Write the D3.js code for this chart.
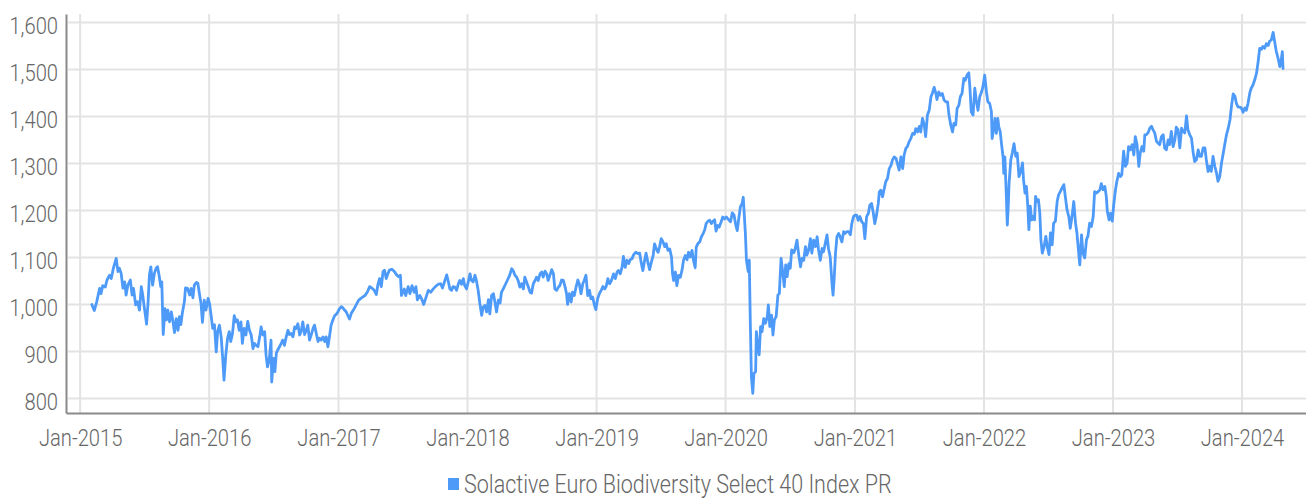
<!DOCTYPE html>
<html>
<head>
<meta charset="utf-8">
<script src="https://cdn.jsdelivr.net/npm/d3@7"></script>
<style>
  html, body { margin: 0; padding: 0; background: #ffffff; }
  svg text { font-family: Roboto, "Noto Sans", sans-serif; font-weight: 300; fill: #666666; }
</style>
</head>
<body>
<svg id="chart" width="1306" height="498"></svg>
<script>
// ---- data ----
const seriesName = "Solactive Euro Biodiversity Select 40 Index PR";
const yTickValues = [800, 900, 1000, 1100, 1200, 1300, 1400, 1500, 1600];
const xTickDates = ["2015-01-01","2016-01-01","2017-01-01","2018-01-01","2019-01-01",
                    "2020-01-01","2021-01-01","2022-01-01","2023-01-01","2024-01-01"];

const dates = [
"2015-02-03","2015-02-10","2015-02-17","2015-02-25","2015-03-01","2015-03-06","2015-03-13","2015-03-18","2015-03-25","2015-03-30",
"2015-04-05","2015-04-13","2015-04-18","2015-04-22","2015-04-27","2015-05-02","2015-05-07","2015-05-11","2015-05-16","2015-05-23",
"2015-05-28","2015-06-01","2015-06-07","2015-06-12","2015-06-18","2015-06-23","2015-06-27","2015-07-02","2015-07-08","2015-07-12",
"2015-07-16","2015-07-20","2015-07-25","2015-07-30","2015-08-04","2015-08-08","2015-08-13","2015-08-17","2015-08-20","2015-08-24",
"2015-08-29","2015-09-02","2015-09-06","2015-09-11","2015-09-16","2015-09-20","2015-09-25","2015-09-30","2015-10-05","2015-10-09",
"2015-10-13","2015-10-17","2015-10-23","2015-10-26","2015-11-01","2015-11-07","2015-11-11","2015-11-16","2015-11-20","2015-11-26",
"2015-11-30","2015-12-05","2015-12-09","2015-12-13","2015-12-18","2015-12-23","2015-12-29",
"2016-01-02","2016-01-07","2016-01-11","2016-01-16","2016-01-21","2016-01-25","2016-01-30","2016-02-04","2016-02-09","2016-02-12",
"2016-02-17","2016-02-22","2016-02-27","2016-03-02","2016-03-07","2016-03-12","2016-03-17","2016-03-21","2016-03-26","2016-03-31",
"2016-04-04","2016-04-09","2016-04-14","2016-04-19","2016-04-24","2016-04-29","2016-05-04","2016-05-08","2016-05-13","2016-05-18",
"2016-05-23","2016-05-27","2016-06-01","2016-06-06","2016-06-10","2016-06-14","2016-06-19","2016-06-24","2016-06-26","2016-07-01",
"2016-07-05","2016-07-09","2016-07-13","2016-07-18","2016-07-23","2016-07-27","2016-08-01","2016-08-06","2016-08-11","2016-08-15",
"2016-08-20","2016-08-25","2016-08-30","2016-09-03","2016-09-08","2016-09-13","2016-09-17","2016-09-22","2016-09-27","2016-10-02",
"2016-10-06","2016-10-11","2016-10-16","2016-10-21","2016-10-25","2016-10-30","2016-11-04","2016-11-08","2016-11-13","2016-11-18",
"2016-11-23","2016-11-27","2016-12-02","2016-12-07","2016-12-11","2016-12-16","2016-12-21","2016-12-28",
"2017-01-03","2017-01-09","2017-01-13","2017-01-18","2017-01-23","2017-01-27","2017-02-01","2017-02-06","2017-02-12","2017-02-20",
"2017-02-27","2017-03-05","2017-03-11","2017-03-18","2017-03-24","2017-03-30","2017-04-05","2017-04-12","2017-04-18","2017-04-22",
"2017-04-27","2017-05-02","2017-05-07","2017-05-11","2017-05-16","2017-05-21","2017-05-25","2017-06-01","2017-06-08","2017-06-13",
"2017-06-20","2017-06-25","2017-06-28","2017-07-06","2017-07-10","2017-07-17","2017-07-22","2017-07-28","2017-08-03","2017-08-08",
"2017-08-12","2017-08-19","2017-08-24","2017-08-30","2017-09-05","2017-09-12","2017-09-19","2017-09-26","2017-10-02","2017-10-10",
"2017-10-17","2017-10-22","2017-10-29","2017-11-03","2017-11-07","2017-11-12","2017-11-17","2017-11-21","2017-11-26","2017-12-01",
"2017-12-06","2017-12-10","2017-12-15","2017-12-20","2017-12-24","2017-12-29",
"2018-01-03","2018-01-08","2018-01-12","2018-01-17","2018-01-22","2018-01-26","2018-01-31","2018-02-05","2018-02-10","2018-02-14",
"2018-02-19","2018-02-24","2018-03-01","2018-03-05","2018-03-10","2018-03-15","2018-03-19","2018-03-24","2018-03-29","2018-04-03",
"2018-04-07","2018-04-12","2018-04-19","2018-04-24","2018-04-30","2018-05-06","2018-05-10","2018-05-15","2018-05-20","2018-05-24",
"2018-05-29","2018-06-03","2018-06-08","2018-06-12","2018-06-17","2018-06-22","2018-06-27","2018-07-01","2018-07-06","2018-07-11",
"2018-07-15","2018-07-20","2018-07-25","2018-07-30","2018-08-03","2018-08-08","2018-08-13","2018-08-17","2018-08-22","2018-08-27",
"2018-09-01","2018-09-05","2018-09-10","2018-09-15","2018-09-19","2018-09-24","2018-09-29","2018-10-04","2018-10-08","2018-10-11",
"2018-10-16","2018-10-21","2018-10-25","2018-10-30","2018-11-04","2018-11-09","2018-11-13","2018-11-18","2018-11-23","2018-11-27",
"2018-12-02","2018-12-07","2018-12-12","2018-12-16","2018-12-21","2018-12-26","2018-12-30",
"2019-01-04","2019-01-09","2019-01-14","2019-01-19","2019-01-24","2019-01-28","2019-02-02","2019-02-07","2019-02-12","2019-02-18",
"2019-02-23","2019-02-28","2019-03-04","2019-03-09","2019-03-14","2019-03-18","2019-03-23","2019-03-28","2019-04-02","2019-04-06",
"2019-04-11","2019-04-16","2019-04-22","2019-04-28","2019-05-03","2019-05-07","2019-05-12","2019-05-17","2019-05-21","2019-05-26",
"2019-05-31","2019-06-05","2019-06-10","2019-06-14","2019-06-19","2019-06-24","2019-06-28","2019-07-03","2019-07-08","2019-07-13",
"2019-07-17","2019-07-22","2019-07-27","2019-08-01","2019-08-04","2019-08-07","2019-08-12","2019-08-16","2019-08-21","2019-08-26",
"2019-08-31","2019-09-04","2019-09-09","2019-09-14","2019-09-18","2019-09-23","2019-09-28","2019-10-02","2019-10-07","2019-10-10",
"2019-10-15","2019-10-20","2019-10-24","2019-10-29","2019-11-03","2019-11-07","2019-11-12","2019-11-17","2019-11-22","2019-11-26",
"2019-12-01","2019-12-05","2019-12-10","2019-12-14","2019-12-19","2019-12-24","2019-12-29",
"2020-01-03","2020-01-10","2020-01-15","2020-01-20","2020-01-25","2020-01-29","2020-02-03","2020-02-08","2020-02-12","2020-02-17",
"2020-02-20","2020-02-26","2020-02-29","2020-03-05","2020-03-08","2020-03-11","2020-03-14","2020-03-18","2020-03-21","2020-03-26",
"2020-03-28","2020-04-01","2020-04-05","2020-04-09","2020-04-13","2020-04-18","2020-04-23","2020-04-28","2020-05-01","2020-05-05",
"2020-05-10","2020-05-14","2020-05-18","2020-05-23","2020-05-28","2020-06-01","2020-06-06","2020-06-11","2020-06-15","2020-06-19",
"2020-06-23","2020-06-28","2020-07-02","2020-07-06","2020-07-12","2020-07-16","2020-07-21","2020-07-26","2020-07-31","2020-08-04",
"2020-08-09","2020-08-14","2020-08-18","2020-08-23","2020-08-28","2020-09-01","2020-09-06","2020-09-11","2020-09-16","2020-09-20",
"2020-09-25","2020-09-30","2020-10-04","2020-10-09","2020-10-14","2020-10-18","2020-10-23","2020-10-28","2020-10-31","2020-11-03",
"2020-11-07","2020-11-11","2020-11-16","2020-11-20","2020-11-25","2020-11-30","2020-12-04","2020-12-09","2020-12-14","2020-12-19",
"2020-12-23","2020-12-28",
"2021-01-01","2021-01-06","2021-01-10","2021-01-15","2021-01-20","2021-01-25","2021-01-29","2021-02-03","2021-02-08","2021-02-12",
"2021-02-17","2021-02-22","2021-02-26","2021-03-03","2021-03-08","2021-03-11","2021-03-15","2021-03-20","2021-03-25","2021-03-29",
"2021-04-03","2021-04-08","2021-04-13","2021-04-17","2021-04-22","2021-04-27","2021-05-01","2021-05-06","2021-05-11","2021-05-16",
"2021-05-20","2021-05-25","2021-05-30","2021-06-03","2021-06-08","2021-06-13","2021-06-18","2021-06-22","2021-06-27","2021-07-02",
"2021-07-06","2021-07-11","2021-07-16","2021-07-20","2021-07-25","2021-07-30","2021-08-04","2021-08-08","2021-08-13","2021-08-18",
"2021-08-21","2021-08-26","2021-08-31","2021-09-05","2021-09-10","2021-09-15","2021-09-20","2021-09-24","2021-09-29","2021-10-04",
"2021-10-08","2021-10-13","2021-10-17","2021-10-22","2021-10-26","2021-10-31","2021-11-05","2021-11-09","2021-11-14","2021-11-19",
"2021-11-22","2021-11-26","2021-12-01","2021-12-06","2021-12-10","2021-12-15","2021-12-20","2021-12-25","2021-12-29",
"2022-01-03","2022-01-08","2022-01-12","2022-01-17","2022-01-22","2022-01-24","2022-01-28","2022-02-01","2022-02-05","2022-02-09",
"2022-02-12","2022-02-16","2022-02-20","2022-02-24","2022-02-26","2022-03-01","2022-03-05","2022-03-08","2022-03-11","2022-03-13",
"2022-03-18","2022-03-22","2022-03-27","2022-04-01","2022-04-05","2022-04-10","2022-04-15","2022-04-20","2022-04-23","2022-04-27",
"2022-05-01","2022-05-05","2022-05-08","2022-05-12","2022-05-16","2022-05-20","2022-05-24","2022-05-27","2022-05-31","2022-06-04",
"2022-06-08","2022-06-11","2022-06-15","2022-06-20","2022-06-25","2022-06-29","2022-07-04","2022-07-08","2022-07-13","2022-07-17",
"2022-07-22","2022-07-27","2022-07-31","2022-08-05","2022-08-10","2022-08-15","2022-08-19","2022-08-24","2022-08-29","2022-09-02",
"2022-09-07","2022-09-12","2022-09-17","2022-09-21","2022-09-26","2022-09-29","2022-10-04","2022-10-08","2022-10-13","2022-10-18",
"2022-10-22","2022-10-27","2022-11-01","2022-11-06","2022-11-10","2022-11-15","2022-11-20","2022-11-25","2022-11-29","2022-12-04",
"2022-12-09","2022-12-13","2022-12-16","2022-12-21","2022-12-25","2022-12-30",
"2023-01-03","2023-01-08","2023-01-12","2023-01-17","2023-01-22","2023-01-26","2023-01-31","2023-02-05","2023-02-10","2023-02-14",
"2023-02-19","2023-02-24","2023-03-01","2023-03-05","2023-03-10","2023-03-15","2023-03-19","2023-03-24","2023-03-29","2023-04-01",
"2023-04-05","2023-04-10","2023-04-15","2023-04-20","2023-04-24","2023-04-29","2023-05-04","2023-05-09","2023-05-13","2023-05-18",
"2023-05-23","2023-05-27","2023-06-01","2023-06-06","2023-06-10","2023-06-15","2023-06-20","2023-06-25","2023-06-29","2023-07-04",
"2023-07-09","2023-07-14","2023-07-18","2023-07-23","2023-07-28","2023-08-01","2023-08-06","2023-08-11","2023-08-16","2023-08-20",
"2023-08-25","2023-08-30","2023-09-03","2023-09-08","2023-09-13","2023-09-18","2023-09-22","2023-09-27","2023-10-02","2023-10-06",
"2023-10-11","2023-10-16","2023-10-21","2023-10-25","2023-10-30","2023-11-04","2023-11-09","2023-11-13","2023-11-18","2023-11-23",
"2023-11-28","2023-12-02","2023-12-07","2023-12-12","2023-12-16","2023-12-21","2023-12-26","2023-12-30",
"2024-01-04","2024-01-09","2024-01-13","2024-01-18","2024-01-23","2024-01-27","2024-02-01","2024-02-06","2024-02-11","2024-02-15",
"2024-02-20","2024-02-25","2024-02-29","2024-03-05","2024-03-10","2024-03-15","2024-03-19","2024-03-24","2024-03-29","2024-04-03",
"2024-04-07","2024-04-12","2024-04-17","2024-04-21","2024-04-24","2024-04-26"
];

const values = [
1000,987,1006,1034,1023,1040,1037,1052,1062,1055,
1077,1098,1070,1077,1066,1035,1048,1020,1041,1052,
1020,1034,999,1006,988,1038,1020,991,958,1002,
1062,1080,1041,1066,1077,1080,1059,1038,1048,936,
991,967,988,963,984,967,940,970,945,974,
957,981,1006,1035,1034,1020,1034,1014,1041,1047,
1045,1020,1002,962,1009,988,1013,
1002,974,949,957,899,942,956,931,878,839,
892,928,942,921,938,976,963,967,945,963,
917,949,935,964,945,935,906,917,913,910,
931,952,935,942,892,867,882,924,835,885,
857,896,903,910,917,924,913,931,945,936,
938,931,952,949,959,935,942,963,936,945,
956,924,936,949,956,938,921,928,924,931,
921,931,910,935,956,967,976,981,
990,995,993,988,984,977,969,981,988,999,
1009,1013,1016,1020,1027,1038,1035,1030,1021,1041,
1055,1038,1070,1073,1055,1066,1073,1075,1070,1064,
1059,1062,1019,1033,1019,1038,1023,1040,1026,1038,
1010,1019,1012,1000,1014,1030,1026,1033,1038,1043,
1044,1035,1051,1063,1051,1033,1030,1038,1037,1030,
1044,1051,1043,1055,1040,1033,
1048,1065,1051,1048,1062,1051,1030,1001,977,994,
998,984,1010,980,1019,1023,1007,984,1009,1003,
1026,1033,1044,1052,1062,1076,1072,1062,1058,1051,
1037,1044,1033,1058,1048,1037,1026,1024,1044,1051,
1058,1051,1065,1069,1058,1071,1065,1051,1062,1074,
1065,1033,1030,1037,1040,1052,1051,1037,1023,1000,
1023,1005,1026,1019,1037,1052,1044,1023,1044,1051,
1062,1019,1030,1012,1016,998,989,
1012,1023,1030,1038,1033,1038,1055,1044,1051,1065,
1055,1069,1072,1065,1079,1102,1079,1094,1087,1095,
1097,1106,1111,1108,1109,1090,1072,1094,1109,1090,
1074,1090,1104,1129,1118,1111,1122,1140,1133,1123,
1129,1115,1118,1101,1065,1051,1069,1040,1062,1058,
1074,1094,1104,1095,1111,1101,1115,1094,1078,1122,
1130,1133,1143,1150,1159,1172,1177,1179,1172,1177,
1180,1156,1168,1165,1175,1186,1182,
1186,1180,1176,1195,1190,1172,1157,1187,1208,1215,
1228,1151,1094,1070,1094,960,846,811,853,857,
942,910,893,953,942,970,960,974,999,953,
977,935,967,974,1020,1023,1098,1066,1038,1084,
1059,1087,1077,1116,1110,1119,1137,1105,1080,1098,
1094,1123,1105,1116,1140,1109,1137,1123,1144,1116,
1094,1119,1112,1130,1148,1119,1101,1045,1020,1052,
1109,1144,1151,1144,1133,1155,1151,1155,1155,1148,
1172,1187,
1190,1190,1179,1187,1176,1172,1140,1187,1194,1211,
1215,1194,1172,1190,1215,1240,1243,1229,1247,1261,
1268,1289,1296,1307,1314,1311,1300,1286,1314,1289,
1318,1332,1337,1346,1353,1364,1362,1374,1367,1379,
1367,1396,1382,1357,1403,1413,1442,1449,1462,1449,
1436,1452,1445,1449,1435,1431,1431,1403,1382,1367,
1385,1382,1417,1424,1442,1449,1481,1477,1488,1493,
1463,1410,1403,1460,1435,1413,1442,1452,1463,
1488,1452,1431,1428,1410,1353,1371,1396,1364,1396,
1378,1367,1339,1314,1279,1314,1236,1169,1215,1258,
1308,1322,1342,1315,1322,1272,1283,1301,1265,1237,
1251,1209,1159,1209,1180,1187,1180,1230,1219,1223,
1194,1138,1109,1123,1145,1123,1106,1152,1127,1173,
1177,1219,1233,1240,1248,1255,1230,1201,1187,1162,
1187,1219,1173,1152,1109,1084,1148,1109,1099,1138,
1145,1173,1166,1187,1240,1237,1240,1244,1257,1244,
1251,1230,1198,1180,1194,1177,
1212,1244,1262,1279,1272,1276,1326,1294,1301,1336,
1329,1340,1318,1357,1340,1294,1322,1336,1326,1361,
1361,1365,1375,1379,1372,1365,1347,1343,1340,1357,
1361,1333,1329,1350,1340,1368,1336,1350,1377,1372,
1333,1375,1368,1365,1401,1372,1361,1354,1322,1304,
1308,1329,1315,1315,1333,1333,1308,1283,1294,1283,
1315,1294,1279,1262,1272,1301,1322,1340,1361,1375,
1393,1421,1448,1443,1428,1420,1420,1418,
1409,1418,1413,1428,1450,1460,1467,1478,1492,1513,
1545,1543,1549,1545,1555,1551,1560,1563,1579,1556,
1538,1524,1506,1521,1538,1502
];

// ---- layout ----
const width = 1306, height = 498;
const plot = { left: 66, right: 1306, top: 14, bottom: 413 };
const parse = d3.timeParse("%Y-%m-%d");
const series = dates.map((d, i) => ({ date: parse(d), value: values[i] }));

const x = d3.scaleTime()
  .domain([parse("2014-11-22"), parse("2024-06-30")])
  .range([plot.left, plot.right]);
const y = d3.scaleLinear()
  .domain([769, 1618])
  .range([plot.bottom, plot.top]);

const svg = d3.select("#chart");
const FONT = 24;
const SQUEEZE = 0.84;

// narrow the light face horizontally to get a condensed look
function condense(sel, ratio) {
  sel.each(function () {
    const w = this.getComputedTextLength();
    d3.select(this).attr("textLength", w * ratio).attr("lengthAdjust", "spacingAndGlyphs");
  });
}

// grid
const grid = svg.append("g").attr("class", "grid");
grid.selectAll("line.h").data(yTickValues).join("line")
  .attr("class", "h")
  .attr("x1", plot.left + 2).attr("x2", plot.right)
  .attr("y1", d => y(d)).attr("y2", d => y(d))
  .attr("stroke", "#e3e3e3").attr("stroke-width", 2);
grid.selectAll("line.v").data(xTickDates).join("line")
  .attr("class", "v")
  .attr("x1", d => x(parse(d))).attr("x2", d => x(parse(d)))
  .attr("y1", plot.top).attr("y2", plot.bottom)
  .attr("stroke", "#e3e3e3").attr("stroke-width", 2);

// index line
const line = d3.line()
  .x(d => x(d.date))
  .y(d => y(d.value));
svg.append("path")
  .datum(series)
  .attr("fill", "none")
  .attr("stroke", "#4d9af8")
  .attr("stroke-width", 2.8)
  .attr("stroke-linejoin", "round")
  .attr("stroke-linecap", "round")
  .attr("d", line);

// axes
const yAxis = svg.append("g")
  .attr("transform", `translate(${plot.left},0)`)
  .call(d3.axisLeft(y).tickValues(yTickValues).tickSize(0).tickPadding(8).tickFormat(d3.format(",")));
yAxis.select(".domain").attr("stroke", "#8a8a8a").attr("stroke-width", 2);
yAxis.selectAll("text")
  .attr("dy", "0.45em")
  .style("font-size", FONT + "px")
  .attr("fill", "#666");
condense(yAxis.selectAll("text"), SQUEEZE);

const xAxis = svg.append("g")
  .attr("transform", `translate(0,${plot.bottom})`)
  .call(d3.axisBottom(x)
    .tickValues(xTickDates.map(parse))
    .tickSize(0).tickPadding(16)
    .tickFormat(d3.timeFormat("%b-%Y")));
xAxis.select(".domain").attr("stroke", "#8a8a8a").attr("stroke-width", 2);
xAxis.selectAll("text")
  .style("font-size", FONT + "px")
  .attr("fill", "#666");
condense(xAxis.selectAll("text"), SQUEEZE);
svg.selectAll(".domain").attr("fill", "none");

// legend
const legend = svg.append("g").attr("transform", "translate(448,478)");
legend.append("rect")
  .attr("x", 0).attr("y", 0).attr("width", 11).attr("height", 12)
  .attr("fill", "#4d9af8");
const legendText = legend.append("text")
  .attr("x", 16).attr("y", 15)
  .style("font-size", "25px")
  .text(seriesName);
condense(legendText, 0.86);
</script>
</body>
</html>
